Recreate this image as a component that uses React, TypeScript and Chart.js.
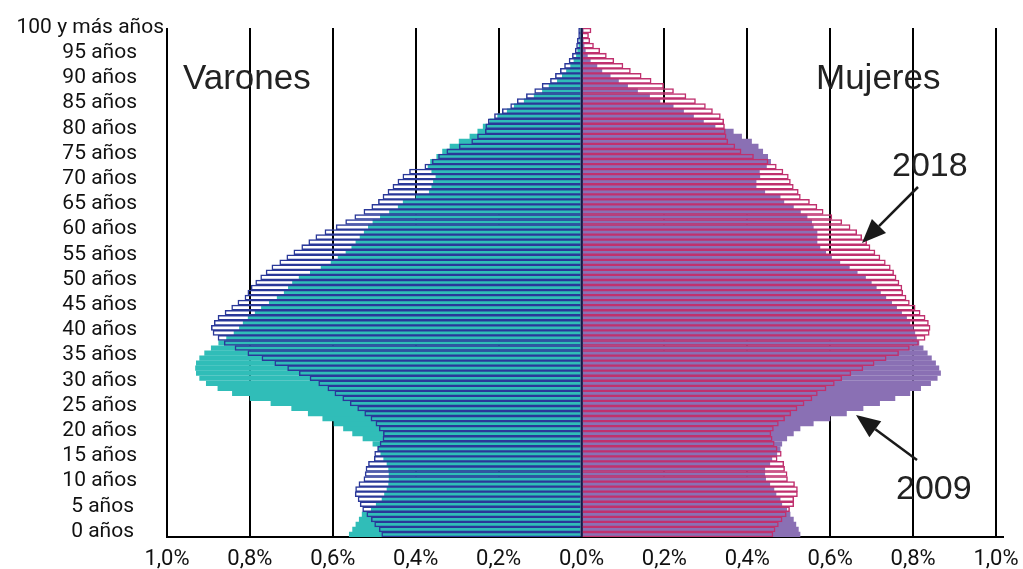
import React, { useEffect, useRef } from "react";
import { Chart, registerables } from "chart.js";

Chart.register(...registerables);

// Ages 0..100 (category axis, bottom to top)
const ages: string[] = [
  "0","1","2","3","4","5","6","7","8","9","10","11","12","13","14","15","16","17","18","19",
  "20","21","22","23","24","25","26","27","28","29","30","31","32","33","34","35","36","37","38","39",
  "40","41","42","43","44","45","46","47","48","49","50","51","52","53","54","55","56","57","58","59",
  "60","61","62","63","64","65","66","67","68","69","70","71","72","73","74","75","76","77","78","79",
  "80","81","82","83","84","85","86","87","88","89","90","91","92","93","94","95","96","97","98","99","100",
];

// Age tick labels (every 5 years)
const ageTickIndex: number[] = [0,5,10,15,20,25,30,35,40,45,50,55,60,65,70,75,80,85,90,95,100];
const ageTickLabels: string[] = [
  "0 años","5 años","10 años","15 años","20 años","25 años","30 años","35 años","40 años","45 años",
  "50 años","55 años","60 años","65 años","70 años","75 años","80 años","85 años","90 años","95 años",
  "100 y más años",
];

// % of total population, by single year of age (0..100)
const varones2009: number[] = [
  0.561,0.553,0.545,0.537,0.530,0.508,0.496,0.482,0.476,0.470,
  0.466,0.465,0.465,0.466,0.470,0.478,0.485,0.491,0.504,0.528,
  0.553,0.575,0.598,0.625,0.660,0.700,0.750,0.800,0.843,0.878,
  0.906,0.922,0.930,0.932,0.930,0.922,0.910,0.894,0.876,0.857,
  0.839,0.826,0.817,0.805,0.788,0.773,0.754,0.735,0.718,0.708,
  0.698,0.682,0.655,0.629,0.605,0.588,0.569,0.555,0.545,0.535,
  0.525,0.515,0.504,0.486,0.464,0.443,0.431,0.400,0.368,0.362,
  0.358,0.352,0.362,0.371,0.365,0.350,0.336,0.318,0.296,0.270,
  0.251,0.238,0.222,0.203,0.180,0.163,0.139,0.115,0.095,0.079,
  0.059,0.047,0.037,0.027,0.019,0.013,0.010,0.007,0.005,0.004,0.004,
];

const varones2018: number[] = [
  0.482,0.488,0.499,0.507,0.518,0.528,0.534,0.539,0.546,0.545,
  0.537,0.525,0.522,0.520,0.514,0.500,0.499,0.492,0.486,0.479,
  0.478,0.488,0.496,0.508,0.523,0.540,0.558,0.576,0.595,0.612,
  0.634,0.655,0.681,0.709,0.740,0.771,0.805,0.836,0.862,0.877,
  0.889,0.893,0.886,0.877,0.860,0.844,0.829,0.812,0.805,0.797,
  0.786,0.774,0.761,0.747,0.728,0.711,0.694,0.675,0.658,0.641,
  0.619,0.592,0.569,0.547,0.525,0.506,0.490,0.479,0.467,0.455,
  0.443,0.431,0.415,0.378,0.360,0.345,0.325,0.295,0.265,0.251,
  0.232,0.231,0.225,0.210,0.191,0.171,0.155,0.133,0.113,0.095,
  0.075,0.063,0.051,0.041,0.030,0.022,0.015,0.012,0.010,0.007,0.007,
];

const mujeres2009: number[] = [
  0.528,0.524,0.518,0.512,0.504,0.496,0.484,0.480,0.470,0.465,
  0.455,0.445,0.443,0.443,0.455,0.460,0.472,0.480,0.484,0.496,
  0.512,0.528,0.560,0.600,0.640,0.680,0.720,0.757,0.793,0.819,
  0.843,0.859,0.867,0.863,0.855,0.845,0.835,0.825,0.815,0.809,
  0.805,0.801,0.793,0.785,0.773,0.761,0.749,0.735,0.722,0.712,
  0.700,0.686,0.666,0.647,0.624,0.604,0.590,0.576,0.569,0.569,
  0.569,0.560,0.556,0.545,0.529,0.512,0.489,0.480,0.443,0.422,
  0.422,0.431,0.430,0.447,0.457,0.450,0.438,0.427,0.411,0.387,
  0.367,0.323,0.295,0.271,0.247,0.222,0.190,0.165,0.136,0.112,
  0.090,0.070,0.050,0.038,0.022,0.015,0.010,0.007,0.005,0.003,0.005,
];

const mujeres2018: number[] = [
  0.462,0.467,0.475,0.484,0.494,0.502,0.512,0.512,0.521,0.521,
  0.514,0.497,0.496,0.490,0.488,0.472,0.482,0.472,0.465,0.460,
  0.457,0.463,0.475,0.490,0.505,0.520,0.537,0.556,0.569,0.590,
  0.610,0.628,0.650,0.679,0.706,0.735,0.765,0.791,0.813,0.829,
  0.839,0.841,0.837,0.829,0.817,0.805,0.791,0.783,0.775,0.773,
  0.766,0.759,0.753,0.745,0.733,0.720,0.708,0.696,0.688,0.676,
  0.664,0.648,0.628,0.604,0.583,0.568,0.550,0.528,0.523,0.511,
  0.504,0.499,0.486,0.470,0.450,0.415,0.385,0.370,0.353,0.349,
  0.347,0.345,0.343,0.335,0.316,0.299,0.275,0.252,0.222,0.198,
  0.168,0.144,0.118,0.100,0.078,0.060,0.044,0.029,0.020,0.017,0.023,
];

const TEAL = "#30bdb8";
const PURPLE = "#8a70b4";
const BLUE = "#2a3899";
const MAGENTA = "#c0306e";
const CENTER = "#15174a";

function drawArrow(ctx: CanvasRenderingContext2D, x1: number, y1: number, x2: number, y2: number) {
  const ang = Math.atan2(y2 - y1, x2 - x1);
  const head = 24;
  const half = 10;
  const bx = x2 - head * Math.cos(ang);
  const by = y2 - head * Math.sin(ang);
  ctx.strokeStyle = "#1a1a1a";
  ctx.fillStyle = "#1a1a1a";
  ctx.lineWidth = 2.5;
  ctx.beginPath();
  ctx.moveTo(x1, y1);
  ctx.lineTo(bx, by);
  ctx.stroke();
  ctx.beginPath();
  ctx.moveTo(x2, y2);
  ctx.lineTo(bx + half * Math.sin(ang), by - half * Math.cos(ang));
  ctx.lineTo(bx - half * Math.sin(ang), by + half * Math.cos(ang));
  ctx.closePath();
  ctx.fill();
}

const pyramidPlugin = {
  id: "pyramidDecor",
  afterDatasetsDraw(chart: any) {
    const { ctx, chartArea, scales } = chart;
    const x0 = scales.x.getPixelForValue(0);
    ctx.save();
    ctx.strokeStyle = CENTER;
    ctx.lineWidth = 2;
    ctx.beginPath();
    ctx.moveTo(x0, chartArea.top);
    ctx.lineTo(x0, chartArea.bottom);
    ctx.stroke();
    ctx.restore();
  },
  afterDraw(chart: any) {
    const { ctx, scales, chartArea } = chart;
    ctx.save();
    // extend baseline slightly to the right as in the source
    ctx.strokeStyle = "#000";
    ctx.lineWidth = 2;
    ctx.beginPath();
    ctx.moveTo(chartArea.right - 2, chartArea.bottom);
    ctx.lineTo(chartArea.right + 8, chartArea.bottom);
    ctx.stroke();
    // age labels
    ctx.fillStyle = "#111";
    ctx.font = "21px Roboto";
    ctx.textBaseline = "middle";
    ctx.textAlign = "right";
    ageTickIndex.forEach((idx, i) => {
      const y = scales.y.getPixelForValue(idx) - 3;
      const xr = idx === 100 ? 164 : idx < 10 ? 134 : 137;
      ctx.fillText(ageTickLabels[i], xr, y);
    });
    // titles
    ctx.textAlign = "left";
    ctx.textBaseline = "alphabetic";
    ctx.fillStyle = "#222";
    ctx.font = "35px 'Liberation Sans', Arial, sans-serif";
    ctx.fillText("Varones", 183, 89);
    ctx.fillText("Mujeres", 816, 89);
    ctx.font = "34px 'Liberation Sans', Arial, sans-serif";
    ctx.fillText("2018", 892, 176);
    ctx.fillText("2009", 896, 499);
    // arrows
    drawArrow(ctx, 918, 187, 862, 243);
    drawArrow(ctx, 917, 460, 856, 415);
    ctx.restore();
  },
};

export default function App() {
  const canvasRef = useRef<HTMLCanvasElement | null>(null);

  useEffect(() => {
    if (!canvasRef.current) return;
    const chart = new Chart(canvasRef.current, {
      type: "bar",
      data: {
        labels: ages,
        datasets: [
          {
            label: "Varones 2009",
            data: varones2009.map((v) => -v),
            backgroundColor: TEAL,
            borderWidth: 0,
            barPercentage: 1.04,
            categoryPercentage: 1,
            grouped: false,
            order: 2,
          },
          {
            label: "Mujeres 2009",
            data: mujeres2009,
            backgroundColor: PURPLE,
            borderWidth: 0,
            barPercentage: 1.04,
            categoryPercentage: 1,
            grouped: false,
            order: 2,
          },
          {
            label: "Varones 2018",
            data: varones2018.map((v) => -v),
            backgroundColor: "rgba(0,0,0,0)",
            borderColor: BLUE,
            borderWidth: 0.85,
            barPercentage: 1,
            categoryPercentage: 1,
            grouped: false,
            order: 1,
          },
          {
            label: "Mujeres 2018",
            data: mujeres2018,
            backgroundColor: "rgba(0,0,0,0)",
            borderColor: MAGENTA,
            borderWidth: 0.85,
            barPercentage: 1,
            categoryPercentage: 1,
            grouped: false,
            order: 1,
          },
        ],
      },
      options: {
        indexAxis: "y",
        responsive: false,
        animation: false,
        layout: { padding: { left: 167, right: 27, top: 28, bottom: 0 } },
        plugins: {
          legend: { display: false },
          tooltip: { enabled: false },
        },
        scales: {
          x: {
            type: "linear",
            min: -1,
            max: 1,
            afterFit: (scale: any) => {
              scale.height = 32;
              scale.paddingLeft = 0;
              scale.paddingRight = 0;
            },
            ticks: {
              stepSize: 0.2,
              padding: 11,
              color: "#111",
              font: { family: "Roboto", size: 22, lineHeight: 1 },
              callback: (v: any) => Math.abs(Number(v)).toFixed(1).replace(".", ",") + "%",
            },
            grid: {
              color: "#000",
              lineWidth: 2,
              drawTicks: false,
            },
            border: { display: true, color: "#000", width: 2 },
          },
          y: {
            type: "category",
            reverse: true,
            display: false,
          },
        },
      },
      plugins: [pyramidPlugin],
    } as any);
    return () => chart.destroy();
  }, []);

  return (
    <div style={{ position: "fixed", left: 0, top: 0, width: 1023, height: 569, background: "#fff" }}>
      <canvas ref={canvasRef} width={1023} height={569} style={{ display: "block" }} />
    </div>
  );
}
